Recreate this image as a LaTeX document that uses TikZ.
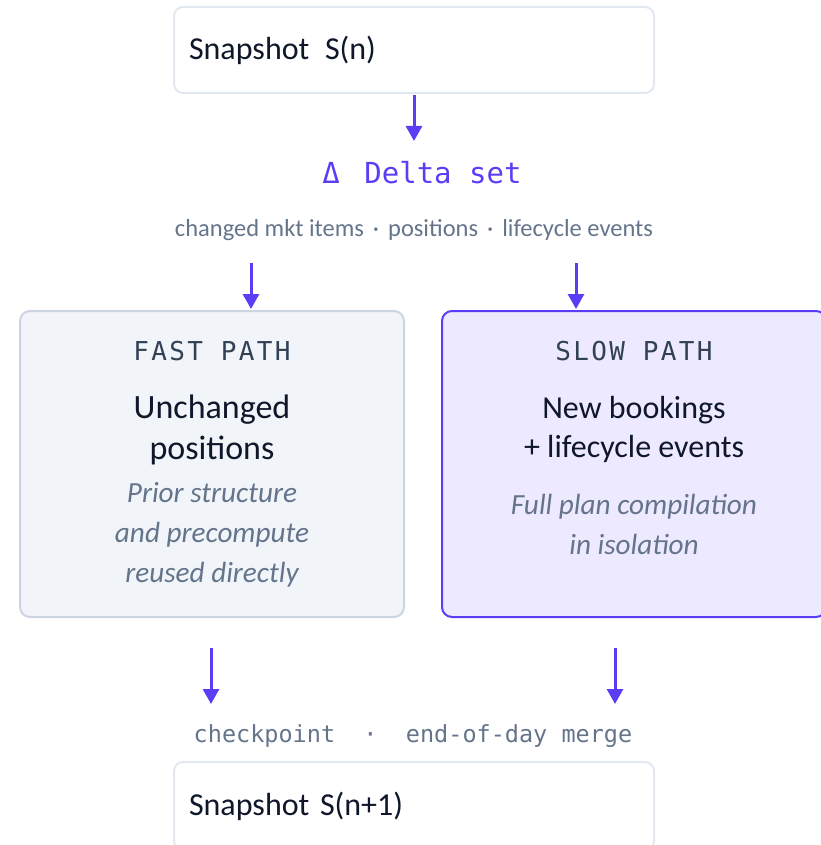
\documentclass[tikz,border=0pt]{standalone}
\usepackage{fontspec}
\setmainfont{Carlito}
\newfontfamily\monof{DejaVu Sans Mono}
\newfontfamily\monols[LetterSpace=9]{DejaVu Sans Mono}
\usetikzlibrary{arrows.meta}
\definecolor{accent}{RGB}{91,61,245}
\definecolor{lightborder}{HTML}{E2E8F0}
\definecolor{fastfill}{HTML}{F1F5F9}
\definecolor{fastborder}{HTML}{CBD5E1}
\definecolor{slowfill}{HTML}{EDE9FE}
\definecolor{darktext}{HTML}{0F172A}
\definecolor{titletext}{HTML}{334155}
\definecolor{greytext}{HTML}{64748B}
\tikzset{
  snapbox/.style={draw=lightborder, line width=2pt, fill=white, rounded corners=9pt,
    minimum width=480pt, minimum height=86pt, inner xsep=15pt, text width=450pt,
    align=left, text=darktext, font=\fontsize{32}{38}\selectfont},
  fastbox/.style={draw=fastborder, line width=2pt, fill=fastfill, rounded corners=10pt,
    minimum width=384pt, minimum height=306pt},
  slowbox/.style={draw=accent, line width=2pt, fill=slowfill, rounded corners=10pt,
    minimum width=384pt, minimum height=306pt},
  pathtitle/.style={anchor=base, text=titletext, font=\monols\fontsize{26}{30}\selectfont},
  mainlabel/.style={anchor=base, text=darktext, font=\fontsize{34}{40}\selectfont},
  note/.style={anchor=base, text=greytext, font=\itshape\fontsize{29.2}{34}\selectfont},
  arr/.style={draw=accent, line width=3pt, -{Triangle[width=16pt,length=15pt]}},
}
\begin{document}
\begin{tikzpicture}[x=1pt,y=-1pt]
\useasboundingbox (0,0) rectangle (820,845);
% top snapshot
\node[snapbox] (top) at (414,50) {Snapshot\hspace{5pt} S(n)};
% delta set
\node[anchor=base, text=accent, font=\monof\fontsize{29}{34}\selectfont] (delta) at (422,183) {Δ\hspace{7pt} Delta set};
\node[anchor=base, text=greytext, font=\fontsize{24.5}{28}\selectfont] (sub) at (414,236)
  {changed mkt items\hspace{9pt}·\hspace{9pt}positions\hspace{9pt}·\hspace{9pt}lifecycle events};
% boxes
\node[fastbox] (fast) at (212,464) {};
\node[slowbox] (slow) at (634,464) {};
\node[pathtitle] (fasttitle) at (212,360) {FAST PATH};
\node[mainlabel] (fastmain1) at (212,418) {Unchanged};
\node[mainlabel] (fastmain2) at (212,459) {positions};
\node[note] (fastn1) at (212,502) {Prior structure};
\node[note] (fastn2) at (212,542) {and precompute};
\node[note] (fastn3) at (212,582) {reused directly};
\node[pathtitle] (slowtitle) at (634,360) {SLOW PATH};
\node[mainlabel, font=\fontsize{32}{38}\selectfont] (slowmain1) at (634,418) {New bookings};
\node[mainlabel, font=\fontsize{32}{38}\selectfont] (slowmain2) at (634,457) {+ lifecycle events};
\node[note] (slown1) at (634,514) {Full plan compilation};
\node[note] (slown2) at (634,554) {in isolation};
% merge label
\node[anchor=base, text=greytext, font=\monof\fontsize{23.5}{28}\selectfont] (merge) at (413,742)
  {checkpoint\ \ ·\ \ end-of-day merge};
% bottom snapshot
\node[snapbox, minimum height=88pt] (bottom) at (414,806) {Snapshot S(n+1)};
% arrows
\coordinate (a1s) at (414,95);  \coordinate (a1e) at (414,141);
\coordinate (a2s) at (251,263); \coordinate (a2e) at (251,309);
\coordinate (a3s) at (576,263); \coordinate (a3e) at (576,309);
\coordinate (a4s) at (211,648); \coordinate (a4e) at (211,704);
\coordinate (a5s) at (615,648); \coordinate (a5e) at (615,704);
\draw[arr] (a1s) -- (a1e);
\draw[arr] (a2s) -- (a2e);
\draw[arr] (a3s) -- (a3e);
\draw[arr] (a4s) -- (a4e);
\draw[arr] (a5s) -- (a5e);
\end{tikzpicture}
\end{document}
